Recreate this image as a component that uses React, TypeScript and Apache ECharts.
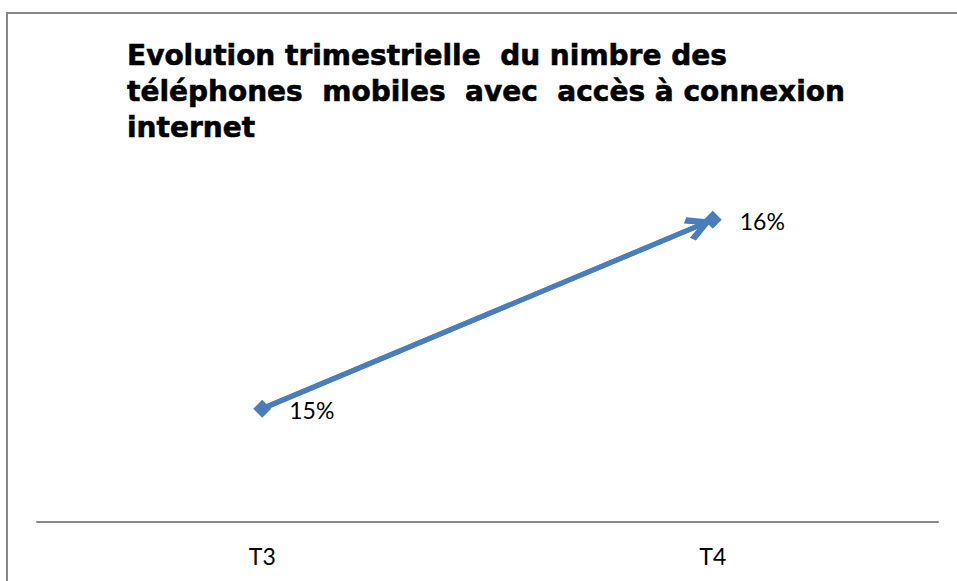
import React, { useEffect, useRef } from "react";
import * as echarts from "echarts";

const categories: string[] = ["T3", "T4"];
const values: number[] = [15, 16];
const titleText = "Evolution trimestrielle  du nimbre des\ntéléphones  mobiles  avec  accès à connexion\ninternet";

const LINE_COLOR = "#4A7EBB";

export default function App() {
  const ref = useRef<HTMLDivElement>(null);
  useEffect(() => {
    if (!ref.current) return;
    const chart = echarts.init(ref.current, null, { renderer: "svg" });
    chart.setOption({
      animation: false,
      backgroundColor: "#ffffff",
      title: {
        text: titleText,
        left: 122,
        top: 32,
        textStyle: {
          fontFamily: "DejaVu Sans",
          fontWeight: "bold",
          fontSize: 28,
          lineHeight: 36,
          color: "#000000",
          textBorderColor: "#000000",
          textBorderWidth: 0.6,
        },
      },
      graphic: [
        {
          type: "rect",
          shape: { x: 7, y: 13, width: 1000, height: 1000 },
          style: { fill: "none", stroke: "#878787", lineWidth: 2 },
          silent: true,
        },
      ],
      grid: { left: 37, right: 19, top: 182, bottom: 59 },
      xAxis: {
        type: "category",
        data: categories,
        boundaryGap: true,
        axisLine: { show: true, lineStyle: { color: "#878787", width: 2 } },
        axisTick: { show: false },
        axisLabel: {
          margin: 22,
          fontFamily: "Lato",
          fontSize: 23,
          color: "#000000",
        },
      },
      yAxis: {
        type: "value",
        min: 14.4,
        max: 16.2,
        show: false,
        splitLine: { show: false },
      },
      series: [
        {
          type: "line",
          data: values,
          symbol: "diamond",
          symbolSize: 18,
          itemStyle: { color: LINE_COLOR },
          lineStyle: { color: LINE_COLOR, width: 5 },
          label: {
            show: true,
            position: "right",
            distance: 18,
            formatter: "{c}%",
            fontFamily: "Lato",
            fontSize: 23,
            color: "#000000",
            offset: [0, 1],
          },
          markLine: {
            silent: true,
            symbol: ["none", "path://M50 0 L100 84 L81 100 L50 46 L19 100 L0 84 Z"],
            symbolSize: [25, 28],
            symbolOffset: [0, [0, 14]],
            label: { show: false },
            lineStyle: { color: LINE_COLOR, width: 5, type: "solid" },
            itemStyle: { color: LINE_COLOR },
            data: [
              [
                { coord: [0, values[0]] },
                { coord: [1, values[1]] },
              ],
            ],
          },
          z: 3,
        },
      ],
    });
    return () => chart.dispose();
  }, []);
  return (
    <div
      ref={ref}
      style={{ position: "fixed", left: 0, top: 0, width: 957, height: 581 }}
    />
  );
}
